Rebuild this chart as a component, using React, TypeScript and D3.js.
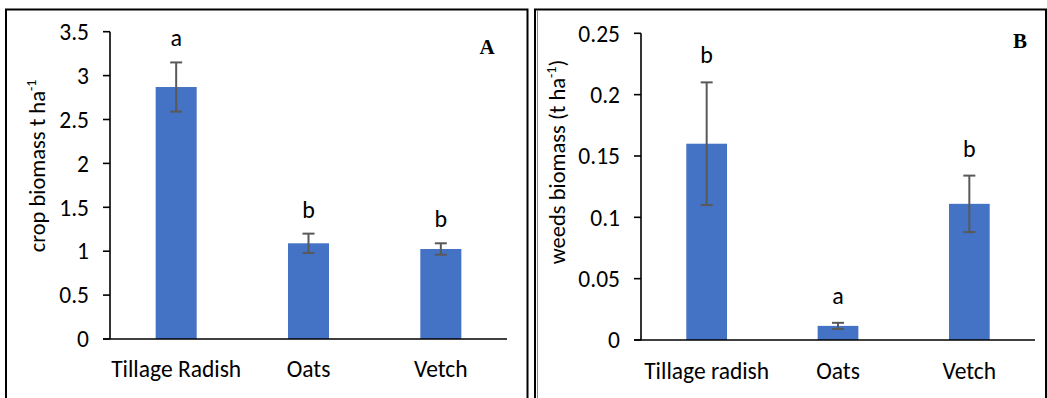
import React from "react";
import * as d3 from "d3";

const cropCategories = ["Tillage Radish", "Oats", "Vetch"];
const cropMeans = [2.87, 1.09, 1.025];
const cropErrors = [0.28, 0.11, 0.065];
const cropLetters = ["a", "b", "b"];
const cropTicks = [0, 0.5, 1, 1.5, 2, 2.5, 3, 3.5];

const weedCategories = ["Tillage radish", "Oats", "Vetch"];
const weedMeans = [0.16, 0.0115, 0.111];
const weedErrors = [0.05, 0.0025, 0.023];
const weedLetters = ["b", "a", "b"];
const weedTicks = [0, 0.05, 0.1, 0.15, 0.2, 0.25];

const FONT = "Carlito, Calibri, Lato, 'Noto Sans', sans-serif";
const BAR = "#4472C4";
const ERR = "#595959";

type PanelProps = {
  categories: string[];
  means: number[];
  errors: number[];
  letters: string[];
  ticks: number[];
  yMax: number;
  x0: number;
  x1: number;
  yZero: number;
  yTop: number;
  titleMain: string;
  titleEnd: string;
  titleX: number;
  titleY: number;
  panelLabel: string;
  panelX: number;
  panelY: number;
  letterGap: number;
  labelY: number;
};

function Panel(p: PanelProps) {
  const x = d3
    .scaleBand<string>()
    .domain(p.categories)
    .range([p.x0, p.x1])
    .paddingInner(0.69)
    .paddingOuter(0.345);
  const y = d3.scaleLinear().domain([0, p.yMax]).range([p.yZero, p.yTop]);
  const fmt = (v: number) => String(+v.toFixed(3));
  const capW = 6;
  return (
    <g>
      {p.categories.map((c, i) => {
        const bx = x(c)!;
        const cx = bx + x.bandwidth() / 2;
        const top = y(p.means[i] + p.errors[i]);
        const bot = y(p.means[i] - p.errors[i]);
        return (
          <g key={c}>
            <rect
              x={bx}
              y={y(p.means[i])}
              width={x.bandwidth()}
              height={p.yZero - y(p.means[i])}
              fill={BAR}
            />
            <line x1={cx} x2={cx} y1={top} y2={bot} stroke={ERR} strokeWidth={2} />
            <line x1={cx - capW} x2={cx + capW} y1={top} y2={top} stroke={ERR} strokeWidth={2} />
            <line x1={cx - capW} x2={cx + capW} y1={bot} y2={bot} stroke={ERR} strokeWidth={2} />
            <text
              x={cx}
              y={top - p.letterGap}
              textAnchor="middle"
              fontFamily={FONT}
              fontSize={24}
              fill="#000"
            >
              {p.letters[i]}
            </text>
            <text
              x={cx}
              y={p.labelY}
              textAnchor="middle"
              fontFamily={FONT}
              fontSize={23.5}
              fill="#000"
            >
              {c}
            </text>
          </g>
        );
      })}
      <line x1={p.x0} x2={p.x0} y1={p.yTop} y2={p.yZero} stroke="#000" strokeWidth={1.6} />
      <line x1={p.x0 - 7} x2={p.x1} y1={p.yZero} y2={p.yZero} stroke="#000" strokeWidth={1.6} />
      {p.ticks.map((t) => (
        <g key={t}>
          <line x1={p.x0 - 7} x2={p.x0} y1={y(t)} y2={y(t)} stroke="#000" strokeWidth={1.6} />
          <text
            x={p.x0 - 21}
            y={y(t)}
            dy="0.35em"
            textAnchor="end"
            fontFamily={FONT}
            fontSize={23.5}
            fill="#000"
          >
            {fmt(t)}
          </text>
        </g>
      ))}
      <text
        transform={`translate(${p.titleX},${p.titleY}) rotate(-90)`}
        textAnchor="middle"
        fontFamily={FONT}
        fontSize={22.5}
        fill="#000"
      >
        {p.titleMain}
        <tspan fontSize={14} dy={-9}>-1</tspan>
        {p.titleEnd ? <tspan dy={9}>{p.titleEnd}</tspan> : null}
      </text>
      <text
        x={p.panelX}
        y={p.panelY}
        textAnchor="middle"
        fontFamily="'Liberation Serif', 'Times New Roman', serif"
        fontWeight="bold"
        fontSize={21}
        fill="#000"
      >
        {p.panelLabel}
      </text>
    </g>
  );
}

export default function App() {
  return (
    <svg
      width={1047}
      height={398}
      style={{ position: "absolute", left: 0, top: 0, background: "#fff" }}
    >
      <rect x={0} y={0} width={1047} height={398} fill="#fff" />
      <path d="M6,404 L6,9.5 L527.5,9.5 L527.5,404" fill="none" stroke="#000" strokeWidth={2} />
      <path d="M535,404 L535,9.5 L1046,9.5 L1046,404" fill="none" stroke="#000" strokeWidth={2} />
      <line x1={537.5} x2={537.5} y1={11} y2={404} stroke="#888" strokeWidth={1} />
      <Panel
        categories={cropCategories}
        means={cropMeans}
        errors={cropErrors}
        letters={cropLetters}
        ticks={cropTicks}
        yMax={3.5}
        x0={110}
        x1={507}
        yZero={339}
        yTop={31.7}
        titleMain="crop biomass t ha"
        titleEnd=""
        titleX={45}
        titleY={166}
        panelLabel="A"
        panelX={487}
        panelY={54}
        letterGap={16}
        labelY={377}
      />
      <Panel
        categories={weedCategories}
        means={weedMeans}
        errors={weedErrors}
        letters={weedLetters}
        ticks={weedTicks}
        yMax={0.25}
        x0={641}
        x1={1035}
        yZero={340}
        yTop={33.3}
        titleMain="weeds biomass (t ha"
        titleEnd=")"
        titleX={565}
        titleY={162}
        panelLabel="B"
        panelX={1020}
        panelY={48}
        letterGap={19}
        labelY={379}
      />
    </svg>
  );
}
